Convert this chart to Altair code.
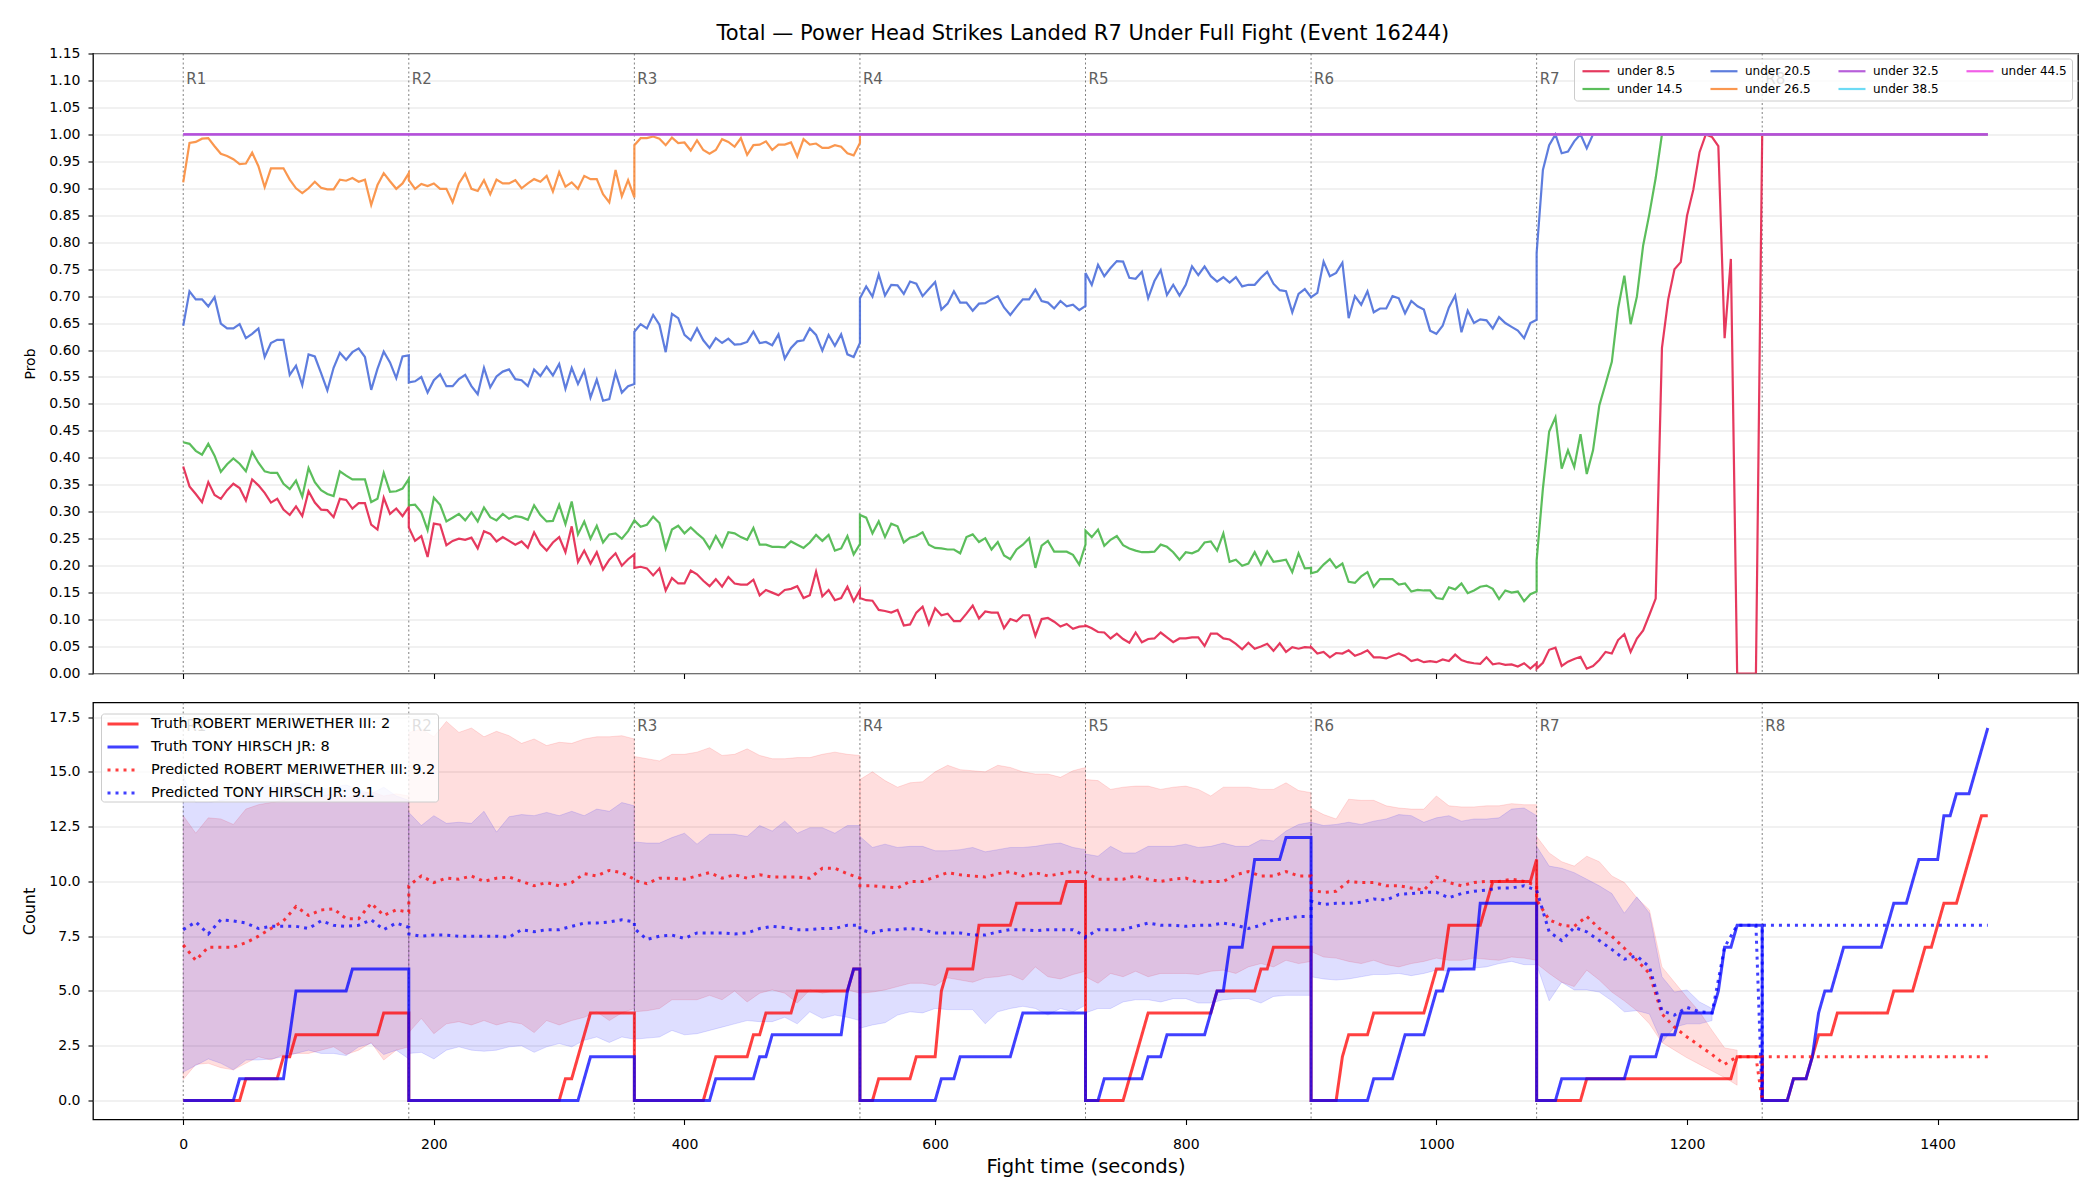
import altair as alt
import pandas as pd

TITLE = "Total \u2014 Power Head Strikes Landed R7 Under Full Fight (Event 16244)"

ROUND_NAMES = ["R1", "R2", "R3", "R4", "R5", "R6", "R7", "R8"]
ROUND_STARTS = [0, 180, 360, 540, 720, 900, 1080, 1260]

X_TICKS = [0, 200, 400, 600, 800, 1000, 1200, 1400]
PROB_TICKS = [0.00, 0.05, 0.10, 0.15, 0.20, 0.25, 0.30, 0.35, 0.40, 0.45, 0.50, 0.55,
              0.60, 0.65, 0.70, 0.75, 0.80, 0.85, 0.90, 0.95, 1.00, 1.05, 1.10, 1.15]
COUNT_TICKS = [0.0, 2.5, 5.0, 7.5, 10.0, 12.5, 15.0, 17.5]

# ---------------------------------------------------------------------------
# Probability of the total staying under each line.
# Each entry is (start second, end second, evenly spaced samples).
# ---------------------------------------------------------------------------
UNDER_8_5 = [
    (0, 180, [0.384, 0.347, 0.333, 0.318, 0.355, 0.331, 0.324, 0.340, 0.352, 0.344, 0.321, 0.360, 0.349,
              0.335, 0.317, 0.324, 0.304, 0.294, 0.310, 0.292, 0.338, 0.317, 0.304, 0.303, 0.290, 0.324,
              0.322, 0.306, 0.316, 0.316, 0.276, 0.267, 0.326, 0.296, 0.306, 0.292, 0.309]),
    (180, 360, [0.271, 0.246, 0.255, 0.216, 0.278, 0.276, 0.238, 0.246, 0.250, 0.248, 0.252, 0.232, 0.264,
                0.259, 0.245, 0.253, 0.246, 0.239, 0.245, 0.233, 0.262, 0.240, 0.228, 0.243, 0.253, 0.225,
                0.273, 0.207, 0.228, 0.204, 0.225, 0.193, 0.211, 0.223, 0.200, 0.212, 0.221]),
    (360, 540, [0.196, 0.198, 0.195, 0.182, 0.195, 0.154, 0.177, 0.167, 0.167, 0.191, 0.184, 0.172, 0.162,
                0.175, 0.161, 0.179, 0.167, 0.165, 0.165, 0.174, 0.145, 0.155, 0.150, 0.145, 0.155, 0.157,
                0.162, 0.140, 0.145, 0.189, 0.143, 0.155, 0.136, 0.140, 0.161, 0.134, 0.155]),
    (540, 720, [0.140, 0.136, 0.135, 0.118, 0.116, 0.113, 0.118, 0.089, 0.091, 0.113, 0.124, 0.091, 0.121,
                0.108, 0.111, 0.097, 0.097, 0.111, 0.126, 0.102, 0.115, 0.113, 0.113, 0.084, 0.101, 0.097,
                0.108, 0.108, 0.070, 0.101, 0.103, 0.096, 0.087, 0.092, 0.083, 0.087, 0.088]),
    (720, 900, [0.089, 0.084, 0.077, 0.076, 0.065, 0.074, 0.064, 0.057, 0.076, 0.058, 0.064, 0.065, 0.076,
                0.067, 0.058, 0.065, 0.065, 0.067, 0.067, 0.051, 0.074, 0.074, 0.065, 0.063, 0.055, 0.045,
                0.057, 0.046, 0.050, 0.055, 0.042, 0.056, 0.040, 0.049, 0.046, 0.049, 0.048]),
    (900, 1080, [0.049, 0.037, 0.040, 0.030, 0.038, 0.037, 0.043, 0.033, 0.037, 0.043, 0.030, 0.030, 0.028,
                 0.033, 0.037, 0.032, 0.023, 0.026, 0.021, 0.023, 0.021, 0.026, 0.023, 0.035, 0.025, 0.021,
                 0.019, 0.018, 0.030, 0.017, 0.019, 0.016, 0.017, 0.013, 0.019, 0.009, 0.019]),
    (1080, 1260, [0.009, 0.020, 0.044, 0.048, 0.014, 0.022, 0.027, 0.031, 0.009, 0.014, 0.025, 0.040, 0.037,
                  0.062, 0.073, 0.040, 0.065, 0.080, 0.109, 0.139, 0.604, 0.694, 0.750, 0.763, 0.849, 0.897,
                  0.967, 1.000, 0.995, 0.978, 0.622, 0.769, 0.000, 0.000, 0.000, 0.000, 1.000]),
    (1260, 1440, [1.0, 1.0]),
]

UNDER_14_5 = [
    (0, 180, [0.429, 0.426, 0.413, 0.406, 0.426, 0.404, 0.374, 0.388, 0.399, 0.389, 0.375, 0.411, 0.391,
              0.375, 0.372, 0.372, 0.352, 0.342, 0.358, 0.328, 0.381, 0.355, 0.340, 0.333, 0.329, 0.375,
              0.367, 0.360, 0.360, 0.360, 0.318, 0.324, 0.372, 0.337, 0.338, 0.343, 0.361]),
    (180, 360, [0.312, 0.313, 0.299, 0.266, 0.326, 0.313, 0.282, 0.289, 0.296, 0.284, 0.299, 0.282, 0.308,
                0.290, 0.284, 0.296, 0.287, 0.292, 0.290, 0.285, 0.312, 0.294, 0.282, 0.283, 0.313, 0.277,
                0.319, 0.258, 0.282, 0.250, 0.274, 0.243, 0.258, 0.260, 0.250, 0.264, 0.284]),
    (360, 540, [0.284, 0.272, 0.276, 0.291, 0.279, 0.232, 0.267, 0.274, 0.260, 0.271, 0.260, 0.250, 0.232,
                0.255, 0.235, 0.262, 0.260, 0.253, 0.248, 0.270, 0.239, 0.239, 0.235, 0.235, 0.234, 0.245,
                0.239, 0.233, 0.243, 0.257, 0.246, 0.257, 0.228, 0.232, 0.255, 0.221, 0.240]),
    (540, 720, [0.294, 0.289, 0.260, 0.282, 0.253, 0.278, 0.273, 0.243, 0.252, 0.255, 0.262, 0.239, 0.233,
                0.232, 0.230, 0.230, 0.223, 0.253, 0.258, 0.244, 0.251, 0.230, 0.244, 0.219, 0.212, 0.230,
                0.239, 0.251, 0.196, 0.237, 0.246, 0.226, 0.226, 0.226, 0.220, 0.202, 0.239]),
    (720, 900, [0.265, 0.253, 0.267, 0.237, 0.248, 0.255, 0.238, 0.232, 0.228, 0.225, 0.225, 0.226, 0.239,
                0.235, 0.225, 0.211, 0.225, 0.223, 0.228, 0.243, 0.245, 0.228, 0.260, 0.207, 0.211, 0.200,
                0.204, 0.225, 0.202, 0.226, 0.207, 0.209, 0.211, 0.188, 0.223, 0.195, 0.196]),
    (900, 1080, [0.186, 0.189, 0.202, 0.212, 0.196, 0.204, 0.170, 0.168, 0.180, 0.188, 0.161, 0.175, 0.175,
                 0.175, 0.165, 0.167, 0.152, 0.155, 0.154, 0.154, 0.140, 0.138, 0.160, 0.156, 0.167, 0.149,
                 0.154, 0.161, 0.163, 0.157, 0.138, 0.154, 0.150, 0.152, 0.134, 0.147, 0.152]),
    (1080, 1180, [0.210, 0.343, 0.449, 0.475, 0.380, 0.414, 0.383, 0.444, 0.370, 0.414, 0.497, 0.537, 0.578,
                  0.677, 0.738, 0.648, 0.699, 0.794, 0.853, 0.919, 1.000]),
    (1180, 1440, [1.0, 1.0]),
]

UNDER_20_5 = [
    (0, 180, [0.645, 0.709, 0.694, 0.694, 0.681, 0.698, 0.649, 0.640, 0.640, 0.648, 0.622, 0.630, 0.640,
              0.587, 0.613, 0.619, 0.619, 0.554, 0.571, 0.535, 0.592, 0.588, 0.557, 0.525, 0.567, 0.595,
              0.582, 0.596, 0.603, 0.587, 0.526, 0.565, 0.597, 0.577, 0.548, 0.588, 0.590]),
    (180, 360, [0.540, 0.542, 0.550, 0.521, 0.544, 0.555, 0.533, 0.533, 0.546, 0.554, 0.533, 0.518, 0.567,
                0.531, 0.551, 0.560, 0.564, 0.546, 0.544, 0.533, 0.564, 0.552, 0.569, 0.553, 0.574, 0.528,
                0.567, 0.537, 0.562, 0.512, 0.545, 0.506, 0.509, 0.558, 0.521, 0.533, 0.537]),
    (360, 540, [0.634, 0.648, 0.640, 0.665, 0.647, 0.596, 0.667, 0.659, 0.628, 0.618, 0.640, 0.618, 0.604,
                0.622, 0.613, 0.621, 0.610, 0.611, 0.615, 0.634, 0.613, 0.615, 0.609, 0.629, 0.584, 0.604,
                0.616, 0.618, 0.640, 0.628, 0.599, 0.628, 0.608, 0.629, 0.592, 0.587, 0.613]),
    (540, 720, [0.696, 0.718, 0.699, 0.740, 0.701, 0.721, 0.720, 0.704, 0.727, 0.723, 0.700, 0.713, 0.726,
                0.675, 0.686, 0.709, 0.688, 0.688, 0.673, 0.686, 0.687, 0.694, 0.700, 0.679, 0.665, 0.680,
                0.694, 0.694, 0.712, 0.691, 0.688, 0.677, 0.691, 0.681, 0.684, 0.674, 0.682]),
    (720, 900, [0.743, 0.721, 0.758, 0.737, 0.752, 0.765, 0.764, 0.734, 0.732, 0.745, 0.696, 0.728, 0.748,
                0.702, 0.721, 0.701, 0.721, 0.755, 0.739, 0.755, 0.737, 0.727, 0.735, 0.725, 0.735, 0.718,
                0.721, 0.721, 0.734, 0.745, 0.723, 0.711, 0.709, 0.670, 0.704, 0.713, 0.698]),
    (900, 1080, [0.698, 0.706, 0.764, 0.737, 0.743, 0.762, 0.659, 0.700, 0.684, 0.709, 0.670, 0.677, 0.677,
                 0.700, 0.696, 0.668, 0.691, 0.681, 0.675, 0.636, 0.630, 0.645, 0.679, 0.701, 0.633, 0.673,
                 0.650, 0.657, 0.655, 0.640, 0.661, 0.650, 0.643, 0.636, 0.622, 0.650, 0.656]),
    (1080, 1125, [0.780, 0.934, 0.980, 1.000, 0.965, 0.968, 0.987, 1.000, 0.974, 1.000]),
    (1125, 1440, [1.0, 1.0]),
]

UNDER_26_5 = [
    (0, 180, [0.911, 0.984, 0.986, 0.992, 0.993, 0.978, 0.964, 0.960, 0.954, 0.945, 0.946, 0.966, 0.941,
              0.902, 0.937, 0.937, 0.937, 0.916, 0.900, 0.891, 0.900, 0.912, 0.901, 0.898, 0.898, 0.916,
              0.914, 0.919, 0.912, 0.916, 0.869, 0.906, 0.928, 0.913, 0.899, 0.909, 0.928]),
    (180, 360, [0.915, 0.899, 0.908, 0.904, 0.909, 0.899, 0.899, 0.874, 0.909, 0.927, 0.899, 0.895, 0.915,
                0.889, 0.916, 0.909, 0.909, 0.915, 0.900, 0.909, 0.917, 0.912, 0.923, 0.894, 0.930, 0.903,
                0.911, 0.899, 0.923, 0.917, 0.917, 0.889, 0.874, 0.934, 0.885, 0.915, 0.883]),
    (360, 540, [0.980, 0.993, 0.993, 0.996, 0.992, 0.980, 0.994, 0.984, 0.985, 0.970, 0.989, 0.971, 0.964,
                0.971, 0.991, 0.986, 0.977, 0.993, 0.962, 0.980, 0.981, 0.987, 0.971, 0.981, 0.981, 0.985,
                0.959, 0.991, 0.981, 0.983, 0.975, 0.975, 0.980, 0.977, 0.965, 0.961, 0.984]),
    (540, 1440, [1.0, 1.0]),
]

UNDER_32_5 = [(0, 1440, [1.0, 1.0])]
UNDER_38_5 = [(0, 1440, [1.0, 1.0])]
UNDER_44_5 = [(0, 1440, [1.0, 1.0])]

# legend order (row by row, four columns) and colours
LINE_LEGEND_ORDER = ["under 8.5", "under 20.5", "under 32.5", "under 44.5",
                     "under 14.5", "under 26.5", "under 38.5"]
LINE_COLORS = ["#e3244d", "#4c6fda", "#b04ed6", "#f04ee6",
               "#4ab74a", "#fa8c3c", "#5ed8f4"]
# drawing order, bottom to top
LINE_DRAW = [("under 8.5", UNDER_8_5), ("under 14.5", UNDER_14_5), ("under 20.5", UNDER_20_5),
             ("under 26.5", UNDER_26_5), ("under 38.5", UNDER_38_5), ("under 44.5", UNDER_44_5),
             ("under 32.5", UNDER_32_5)]

# ---------------------------------------------------------------------------
# Strike counts: cumulative truth per round (5 s samples)
# ---------------------------------------------------------------------------
TRUTH_RED = [
    [0, 0, 0, 0, 0, 0, 0, 0, 0, 0, 1, 1, 1, 1, 1, 1, 2, 2, 3, 3, 3, 3, 3, 3, 3, 3, 3, 3, 3, 3, 3, 3, 4, 4, 4, 4, 4],
    [0, 0, 0, 0, 0, 0, 0, 0, 0, 0, 0, 0, 0, 0, 0, 0, 0, 0, 0, 0, 0, 0, 0, 0, 0, 1, 1, 2, 3, 4, 4, 4, 4, 4, 4, 4, 4],
    [0, 0, 0, 0, 0, 0, 0, 0, 0, 0, 0, 0, 1, 2, 2, 2, 2, 2, 2, 3, 3, 4, 4, 4, 4, 4, 5, 5, 5, 5, 5, 5, 5, 5, 5, 6, 6],
    [0, 0, 0, 1, 1, 1, 1, 1, 1, 2, 2, 2, 2, 5, 6, 6, 6, 6, 6, 8, 8, 8, 8, 8, 8, 9, 9, 9, 9, 9, 9, 9, 9, 10, 10, 10, 10],
    [0, 0, 0, 0, 0, 0, 0, 1, 2, 3, 4, 4, 4, 4, 4, 4, 4, 4, 4, 4, 4, 5, 5, 5, 5, 5, 5, 5, 6, 6, 7, 7, 7, 7, 7, 7, 7],
    [0, 0, 0, 0, 0, 2, 3, 3, 3, 3, 4, 4, 4, 4, 4, 4, 4, 4, 4, 5, 6, 6, 8, 8, 8, 8, 8, 8, 9, 10, 10, 10, 10, 10, 10, 10, 11],
    [0, 0, 0, 0, 0, 0, 0, 0, 1, 1, 1, 1, 1, 1, 1, 1, 1, 1, 1, 1, 1, 1, 1, 1, 1, 1, 1, 1, 1, 1, 1, 1, 2, 2, 2, 2, 2],
    [0, 0, 0, 0, 0, 1, 1, 1, 2, 3, 3, 3, 4, 4, 4, 4, 4, 4, 4, 4, 4, 5, 5, 5, 5, 6, 7, 7, 8, 9, 9, 9, 10, 11, 12, 13, 13],
]
TRUTH_BLUE = [
    [0, 0, 0, 0, 0, 0, 0, 0, 0, 1, 1, 1, 1, 1, 1, 1, 1, 3, 5, 5, 5, 5, 5, 5, 5, 5, 5, 6, 6, 6, 6, 6, 6, 6, 6, 6, 6],
    [0, 0, 0, 0, 0, 0, 0, 0, 0, 0, 0, 0, 0, 0, 0, 0, 0, 0, 0, 0, 0, 0, 0, 0, 0, 0, 0, 0, 1, 2, 2, 2, 2, 2, 2, 2, 2],
    [0, 0, 0, 0, 0, 0, 0, 0, 0, 0, 0, 0, 0, 1, 1, 1, 1, 1, 1, 1, 2, 2, 3, 3, 3, 3, 3, 3, 3, 3, 3, 3, 3, 3, 5, 6, 6],
    [0, 0, 0, 0, 0, 0, 0, 0, 0, 0, 0, 0, 0, 1, 1, 1, 2, 2, 2, 2, 2, 2, 2, 2, 2, 3, 4, 4, 4, 4, 4, 4, 4, 4, 4, 4, 4],
    [0, 0, 0, 1, 1, 1, 1, 1, 1, 1, 2, 2, 2, 3, 3, 3, 3, 3, 3, 3, 4, 5, 5, 7, 7, 7, 9, 11, 11, 11, 11, 11, 12, 12, 12, 12, 12],
    [0, 0, 0, 0, 0, 0, 0, 0, 0, 0, 1, 1, 1, 1, 2, 3, 3, 3, 3, 4, 5, 5, 6, 6, 6, 6, 6, 9, 9, 9, 9, 9, 9, 9, 9, 9, 9],
    [0, 0, 0, 0, 1, 1, 1, 1, 1, 1, 1, 1, 1, 1, 1, 2, 2, 2, 2, 2, 3, 3, 3, 4, 4, 4, 4, 4, 4, 5, 7, 7, 8, 8, 8, 8, 8],
    [0, 0, 0, 0, 0, 1, 1, 1, 2, 4, 5, 5, 6, 7, 7, 7, 7, 7, 7, 7, 8, 9, 9, 9, 10, 11, 11, 11, 11, 13, 13, 14, 14, 14, 15, 16, 17],
]

# predicted totals (10 s samples) with end-of-fight segments
PRED_RED = [
    (0, 180, [7.1, 6.4, 7.0, 7.0, 7.0, 7.2, 7.5, 7.85, 8.2, 8.85, 8.45, 8.7, 8.75, 8.3, 8.3, 9.0, 8.45, 8.7, 8.6]),
    (180, 360, [9.8, 10.25, 9.95, 10.15, 10.1, 10.25, 10.0, 10.15, 10.2, 10.0, 9.8, 9.95, 9.8, 9.95, 10.35,
                10.25, 10.5, 10.4, 10.1]),
    (360, 540, [10.05, 9.9, 10.15, 10.15, 10.1, 10.25, 10.4, 10.15, 10.3, 10.15, 10.3, 10.2, 10.2, 10.2,
                10.15, 10.6, 10.6, 10.35, 10.15]),
    (540, 720, [9.8, 9.8, 9.75, 9.7, 10.0, 10.0, 10.2, 10.4, 10.3, 10.25, 10.2, 10.35, 10.45, 10.25, 10.4,
                10.25, 10.35, 10.45, 10.4]),
    (720, 900, [10.4, 10.1, 10.1, 10.1, 10.25, 10.1, 10.0, 10.1, 10.15, 9.95, 10.0, 10.0, 10.3, 10.45, 10.25,
                10.25, 10.45, 10.25, 10.25]),
    (900, 1080, [9.6, 9.5, 9.55, 10.0, 9.95, 9.95, 9.8, 9.8, 9.7, 9.6, 10.2, 9.95, 9.8, 9.95, 10.0, 10.0,
                 10.1, 10.0, 9.8]),
    (1080, 1250, [9.15, 8.25, 8.0, 7.95, 8.4, 7.85, 7.5, 6.95, 6.4, 5.8, 3.95, 3.35, 2.9, 2.5, 2.1, 1.65,
                  2.0, 2.0]),
    (1255, 1260, [2.0, 0.0]),
    (1260, 1440, [2.0, 2.0]),
]
PRED_BLUE = [
    (0, 180, [7.8, 8.15, 7.6, 8.25, 8.2, 8.1, 7.85, 7.95, 7.95, 7.95, 7.85, 8.2, 8.0, 7.95, 8.0, 8.25, 7.8,
              8.1, 7.9]),
    (180, 360, [7.6, 7.5, 7.55, 7.55, 7.5, 7.5, 7.5, 7.5, 7.45, 7.8, 7.7, 7.8, 7.8, 7.95, 8.1, 8.1, 8.15,
                8.25, 8.15]),
    (360, 540, [7.85, 7.35, 7.5, 7.55, 7.4, 7.65, 7.65, 7.65, 7.6, 7.65, 7.85, 7.95, 7.9, 7.8, 7.8, 7.85,
                7.85, 8.0, 8.0]),
    (540, 720, [7.8, 7.65, 7.8, 7.8, 7.85, 7.8, 7.65, 7.65, 7.65, 7.55, 7.55, 7.7, 7.8, 7.8, 7.75, 7.8, 7.8,
                7.8, 7.5]),
    (720, 900, [7.45, 7.8, 7.8, 7.8, 7.95, 8.1, 8.0, 8.0, 7.95, 8.0, 8.0, 8.1, 8.0, 7.85, 8.0, 8.25, 8.3,
                8.4, 8.4]),
    (900, 1080, [9.1, 8.95, 9.0, 9.0, 9.05, 9.2, 9.15, 9.4, 9.45, 9.5, 9.5, 9.25, 9.45, 9.55, 9.6, 9.7, 9.7,
                 9.8, 9.6]),
    (1080, 1250, [9.6, 7.7, 7.3, 7.9, 7.7, 7.3, 6.9, 6.45, 6.6, 6.1, 4.1, 3.9, 4.25, 4.05, 4.0, 7.0, 8.0,
                  8.0]),
    (1255, 1260, [8.0, 0.0]),
    (1260, 1440, [8.0, 8.0]),
]

# prediction bands: (start, end, lower, upper), 10 s samples
BAND_RED = [
    (0, 180,
     [0.96, 1.65, 1.7, 1.5, 1.4, 1.7, 2.0, 1.85, 2.1, 2.15, 2.15, 2.3, 2.45, 2.1, 2.3, 2.65, 1.85, 2.3, 2.45],
     [13.0, 12.2, 12.9, 12.85, 12.6, 13.3, 13.5, 13.6, 13.7, 13.9, 13.8, 13.9, 14.0, 13.8, 14.0, 14.1, 13.9,
      14.0, 13.9]),
    (180, 360,
     [3.1, 3.75, 3.05, 3.5, 3.6, 3.45, 3.65, 3.45, 3.6, 3.5, 3.1, 3.65, 3.45, 3.65, 3.8, 4.05, 3.65, 4.0, 4.2],
     [16.8, 16.95, 16.6, 17.3, 16.8, 17.0, 16.6, 16.85, 16.65, 16.3, 16.5, 16.2, 16.35, 16.3, 16.5, 16.6,
      16.6, 16.65, 16.5]),
    (360, 540,
     [4.05, 4.1, 4.2, 4.6, 4.6, 4.6, 4.8, 4.6, 5.0, 4.5, 4.9, 5.05, 4.9, 4.45, 5.05, 4.9, 5.0, 5.05, 4.9],
     [15.7, 15.6, 15.5, 15.8, 15.8, 15.9, 16.1, 15.75, 15.8, 16.05, 15.75, 15.6, 15.6, 15.65, 15.65, 15.8,
      15.9, 15.8, 15.75]),
    (540, 720,
     [4.9, 4.95, 5.05, 5.2, 5.35, 5.35, 5.25, 5.6, 5.5, 5.4, 5.6, 5.65, 5.75, 5.5, 6.1, 5.65, 5.55, 5.75, 5.9],
     [14.65, 15.0, 14.6, 14.3, 14.5, 14.55, 15.0, 15.3, 15.1, 15.05, 15.0, 15.3, 15.2, 15.0, 14.9, 14.9,
      14.75, 15.05, 15.2]),
    (720, 900,
     [5.65, 5.35, 5.8, 5.65, 5.9, 5.65, 5.8, 5.8, 5.8, 5.75, 5.9, 5.95, 5.8, 6.1, 6.25, 6.1, 6.4, 6.25, 6.35],
     [14.65, 14.6, 14.2, 14.3, 14.35, 14.35, 14.2, 14.3, 14.35, 14.2, 13.9, 14.3, 14.3, 14.3, 14.2, 14.2,
      14.5, 14.15, 14.05]),
    (900, 1080,
     [6.8, 6.55, 6.5, 6.35, 6.25, 6.4, 6.2, 6.1, 6.25, 6.35, 6.5, 6.4, 6.4, 6.5, 6.45, 6.4, 6.55, 6.5, 6.4],
     [13.35, 13.05, 12.85, 13.75, 13.7, 13.7, 13.45, 13.35, 13.3, 13.3, 13.9, 13.45, 13.4, 13.4, 13.45,
      13.45, 13.55, 13.5, 13.5]),
    (1080, 1240,
     [6.25, 5.8, 5.4, 5.2, 5.95, 5.5, 4.95, 4.55, 4.1, 3.5, 2.65, 2.3, 1.95, 1.65, 1.35, 1.05, 0.7],
     [12.05, 11.3, 10.9, 10.7, 11.15, 10.9, 10.25, 9.95, 9.25, 8.7, 6.1, 5.4, 4.7, 4.05, 3.2, 2.4, 2.3]),
]
BAND_BLUE = [
    (0, 180,
     [1.3, 1.6, 1.9, 1.7, 1.4, 1.85, 1.85, 1.9, 2.0, 2.15, 2.3, 2.15, 2.15, 2.05, 2.45, 2.6, 2.1, 2.3, 1.9],
     [14.8, 13.6, 13.6, 13.7, 13.8, 14.2, 14.3, 14.4, 14.3, 14.5, 14.4, 14.2, 14.3, 14.4, 14.2, 14.0, 14.3,
      13.9, 13.7]),
    (180, 360,
     [2.15, 2.2, 1.9, 2.3, 2.45, 2.3, 2.25, 2.3, 2.45, 2.5, 2.2, 2.45, 2.6, 2.45, 2.75, 2.9, 2.65, 2.9, 2.8],
     [13.15, 12.55, 13.0, 12.65, 12.7, 12.65, 13.2, 12.25, 12.95, 13.05, 13.0, 13.15, 13.0, 13.2, 13.0,
      13.3, 13.2, 13.6, 13.45]),
    (360, 540,
     [2.8, 2.85, 2.9, 3.2, 3.0, 3.05, 3.2, 3.35, 3.5, 3.65, 3.6, 3.6, 3.8, 3.5, 4.05, 3.75, 3.9, 3.8, 3.65],
     [11.8, 11.75, 11.75, 12.0, 12.2, 11.7, 12.15, 12.15, 12.15, 12.05, 12.55, 12.3, 12.75, 12.2, 12.45,
      12.45, 12.2, 12.55, 12.55]),
    (540, 720,
     [3.3, 3.45, 3.55, 3.9, 4.05, 4.0, 4.2, 4.15, 4.15, 4.15, 3.5, 4.05, 4.2, 4.3, 4.2, 3.9, 4.2, 4.05, 4.35],
     [12.05, 11.55, 11.7, 11.55, 11.6, 11.6, 11.4, 11.4, 11.45, 11.55, 11.35, 11.45, 11.55, 11.55, 11.6,
      11.7, 11.75, 11.55, 11.45]),
    (720, 900,
     [4.0, 4.2, 4.2, 4.5, 4.6, 4.6, 4.5, 4.65, 4.65, 4.45, 4.45, 4.6, 4.65, 4.65, 4.45, 4.75, 4.8, 4.8, 4.8],
     [11.25, 11.15, 11.6, 11.3, 11.3, 11.6, 11.6, 11.6, 11.7, 11.55, 11.6, 11.75, 11.6, 11.6, 11.9, 11.85,
      12.3, 12.6, 12.7]),
    (900, 1080,
     [5.65, 5.55, 5.5, 5.55, 5.65, 5.75, 5.75, 5.8, 5.7, 5.8, 5.95, 5.9, 5.95, 6.05, 6.1, 6.25, 6.35, 6.2, 6.2],
     [12.7, 12.55, 12.6, 12.7, 12.6, 12.75, 12.85, 13.05, 13.0, 12.7, 12.9, 13.0, 12.75, 12.85, 12.85, 12.9,
      13.3, 13.35, 13.0]),
    (1080, 1220,
     [6.2, 4.55, 5.4, 5.05, 5.05, 4.95, 4.55, 4.05, 4.1, 3.95, 2.65, 3.35, 3.5, 3.5, 3.65],
     [11.6, 10.7, 10.6, 10.4, 10.1, 9.8, 9.45, 8.55, 9.3, 8.55, 5.65, 4.95, 5.05, 4.5, 4.2]),
]

NAME_TRUTH_RED = "Truth ROBERT MERIWETHER III: 2"
NAME_TRUTH_BLUE = "Truth TONY HIRSCH JR: 8"
NAME_PRED_RED = "Predicted ROBERT MERIWETHER III: 9.2"
NAME_PRED_BLUE = "Predicted TONY HIRSCH JR: 9.1"
COUNT_SERIES = [NAME_TRUTH_RED, NAME_TRUTH_BLUE, NAME_PRED_RED, NAME_PRED_BLUE]


def spread(t0, t1, values):
    n = len(values)
    return [(t0 + (t1 - t0) * i / (n - 1), v) for i, v in enumerate(values)]


def segment_points(segments):
    pts = []
    for t0, t1, vals in segments:
        pts.extend(spread(t0, t1, vals))
    return pts


# ---- tables ----------------------------------------------------------------
prob_rows = []
for name, segs in LINE_DRAW:
    for i, (t, v) in enumerate(segment_points(segs)):
        prob_rows.append({"series": name, "t": t, "p": v, "idx": i})
prob_df = pd.DataFrame(prob_rows)

round_segments = [(s, s + 180) for s in ROUND_STARTS]
count_rows = []
for name, segs in [
    (NAME_TRUTH_RED, [(a, b, v) for (a, b), v in zip(round_segments, TRUTH_RED)]),
    (NAME_TRUTH_BLUE, [(a, b, v) for (a, b), v in zip(round_segments, TRUTH_BLUE)]),
    (NAME_PRED_RED, PRED_RED),
    (NAME_PRED_BLUE, PRED_BLUE),
]:
    for i, (t, v) in enumerate(segment_points(segs)):
        count_rows.append({"series": name, "t": t, "v": v, "idx": i})
count_df = pd.DataFrame(count_rows)


def band_table(bands):
    rows = []
    for seg, (t0, t1, lo, hi) in enumerate(bands):
        for (t, a), (_, b) in zip(spread(t0, t1, lo), spread(t0, t1, hi)):
            rows.append({"t": t, "v": a, "hi": b, "seg": seg})
    return pd.DataFrame(rows)


red_band_df = band_table(BAND_RED)
blue_band_df = band_table(BAND_BLUE)
rounds_df = pd.DataFrame({"t": ROUND_STARTS, "name": ROUND_NAMES})

# ---- shared encodings --------------------------------------------------------
X_SCALE = alt.Scale(domain=[-72, 1512], nice=False, zero=False)
x_top = alt.X("t:Q", scale=X_SCALE,
              axis=alt.Axis(values=X_TICKS, labels=False, title=None, grid=False))
x_bottom = alt.X("t:Q", scale=X_SCALE,
                 axis=alt.Axis(values=X_TICKS, format="d", title="Fight time (seconds)",
                               titleFontSize=19.5, titlePadding=6, labelPadding=13, grid=False))

PROB_SCALE = alt.Scale(domain=[0, 1.15], nice=False, zero=False)
COUNT_SCALE = alt.Scale(domain=[-0.865, 18.165], nice=False, zero=False)

rule_style = dict(strokeDash=[2, 2.5], color="#555555", strokeWidth=1, opacity=0.75)
label_style = dict(align="left", baseline="middle", dx=3, fontSize=15, font="DejaVu Sans", color="#5f5f5f")

# ---- top panel: line probabilities --------------------------------------------
y_prob = alt.Y("p:Q", scale=PROB_SCALE,
               axis=alt.Axis(values=PROB_TICKS, format=".2f", title="Prob", titleFontSize=14,
                             titlePadding=11, labelPadding=8, grid=True, labelOverlap=False))
top_rules = alt.Chart(rounds_df).mark_rule(**rule_style).encode(x=x_top)
top_labels = alt.Chart(rounds_df).transform_calculate(p="1.103").mark_text(**label_style).encode(
    x=x_top, y=y_prob, text="name:N")
top_lines = alt.Chart(prob_df).mark_line(strokeWidth=2.2, opacity=0.9, clip=True).encode(
    x=x_top,
    y=y_prob,
    color=alt.Color("series:N", scale=alt.Scale(domain=LINE_LEGEND_ORDER, range=LINE_COLORS),
                    legend=alt.Legend(orient="none", legendX=1481, legendY=5, direction="horizontal",
                                      columns=4, title=None, padding=5, rowPadding=4, columnPadding=23,
                                      symbolType="M-0.67,0H3.83", symbolSize=144, symbolStrokeWidth=2.2,
                                      labelFontSize=12, labelOffset=23, labelLimit=300,
                                      fillColor="rgba(255,255,255,0.8)", strokeColor="#cccccc",
                                      cornerRadius=3)),
    order=alt.Order("idx:Q"),
)
top = alt.layer(top_rules, top_labels, top_lines).properties(width=1985, height=620)

# ---- bottom panel: strike counts ------------------------------------------------
y_count = alt.Y("v:Q", scale=COUNT_SCALE,
                axis=alt.Axis(values=COUNT_TICKS, format=".1f", title="Count", titleFontSize=16,
                              titlePadding=11, labelPadding=8, grid=True, labelOverlap=False))
red_band = alt.Chart(red_band_df).mark_area(
    fill="#ff0000", fillOpacity=0.13, stroke="#ff0000", strokeOpacity=0.12, strokeWidth=1
).encode(x=x_bottom, y=y_count, y2="hi:Q", detail="seg:N")
blue_band = alt.Chart(blue_band_df).mark_area(
    fill="#0000ff", fillOpacity=0.13, stroke="#0000ff", strokeOpacity=0.12, strokeWidth=1
).encode(x=x_bottom, y=y_count, y2="hi:Q", detail="seg:N")
bottom_rules = alt.Chart(rounds_df).mark_rule(**rule_style).encode(x=x_bottom)
bottom_labels = alt.Chart(rounds_df).transform_calculate(v="17.1").mark_text(**label_style).encode(
    x=x_bottom, y=y_count, text="name:N")

count_legend = alt.Legend(orient="none", legendX=8, legendY=11, direction="vertical", title=None,
                          padding=2, rowPadding=8, symbolType="M-0.57,0H3.86", symbolSize=196,
                          symbolStrokeWidth=3, labelFontSize=14.5, labelOffset=31, labelLimit=500,
                          fillColor="rgba(255,255,255,0.8)", strokeColor="#cccccc", cornerRadius=3)
count_lines = alt.Chart(count_df).mark_line(strokeWidth=3, clip=True).encode(
    x=x_bottom,
    y=y_count,
    color=alt.Color("series:N", scale=alt.Scale(domain=COUNT_SERIES,
                                                range=["#ff0000", "#0000ff", "#ff0000", "#0000ff"]),
                    legend=count_legend),
    strokeDash=alt.StrokeDash("series:N", scale=alt.Scale(domain=COUNT_SERIES,
                                                          range=[[1, 0], [1, 0], [3, 5], [3, 5]]),
                              legend=count_legend),
    opacity=alt.Opacity("series:N", scale=alt.Scale(domain=COUNT_SERIES, range=[0.75, 0.75, 0.6, 0.6]),
                        legend=count_legend),
    order=alt.Order("idx:Q"),
)
bottom = alt.layer(red_band, blue_band, bottom_rules, bottom_labels, count_lines).properties(
    width=1985, height=417)

chart = (
    alt.vconcat(top, bottom, spacing=19)
    .resolve_scale(color="independent", strokeDash="independent", opacity="independent")
    .properties(
        title=alt.TitleParams(TITLE, fontSize=21, font="DejaVu Sans", fontWeight="normal",
                              anchor="middle", offset=1.5, dx=33, color="black"),
        padding={"left": 21, "top": 22.5, "right": 5, "bottom": 5},
        background="white",
    )
    .configure_view(stroke="black", strokeWidth=1.3)
    .configure_axis(labelFont="DejaVu Sans", titleFont="DejaVu Sans", labelFontSize=14,
                    labelColor="black", titleColor="black", titleFontWeight="normal",
                    tickColor="black", tickSize=5, tickWidth=1.1, domain=False,
                    gridColor="#e3e3e3", gridWidth=1)
    .configure_legend(labelFont="DejaVu Sans", labelColor="black")
)

chart.save("out.html", embed_options={"renderer": "svg", "actions": False})
